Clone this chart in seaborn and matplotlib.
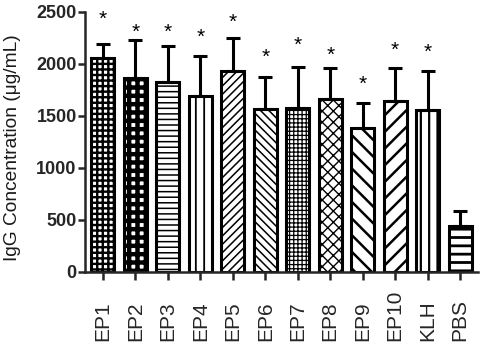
import numpy as np
import seaborn as sns
import matplotlib.pyplot as plt

categories = ['EP1', 'EP2', 'EP3', 'EP4', 'EP5', 'EP6', 'EP7', 'EP8', 'EP9', 'EP10', 'KLH', 'PBS']
igg_mean = [2058, 1868, 1827, 1695, 1930, 1564, 1580, 1666, 1388, 1644, 1561, 442]
igg_sd = [130, 358, 346, 379, 317, 314, 391, 298, 240, 320, 372, 145]
star_y = [2452, 2327, 2327, 2279, 2423, 2087, 2202, 2106, 1827, 2154, 2135]
yticks = [0, 500, 1000, 1500, 2000, 2500]

hatches = ['+++', '++', '---', '||', '////', '\\\\\\\\', '++++', 'xxx', '\\\\', '//', '||', '--']
hatch_lw = [1.7, 3.2, 1.1, 1.3, 1.1, 1.1, 0.9, 1.0, 1.8, 1.8, 1.6, 2.0]

sns.set_style('ticks')
plt.rcParams['font.family'] = ['Liberation Sans', 'DejaVu Sans']
plt.rcParams['hatch.color'] = 'black'

fig = plt.figure(figsize=(4.82, 3.44), dpi=100)
ax = fig.add_axes([85 / 482, 72 / 344, 393 / 482, 260 / 344])

sns.barplot(x=categories, y=igg_mean, color='white', edgecolor='black',
            linewidth=2.2, width=0.7, saturation=1, ax=ax)
for p, h, lw in zip(ax.patches, hatches, hatch_lw):
    p.set_facecolor('white')
    p.set_hatch(h)
    if hasattr(p, 'set_hatch_linewidth'):
        p.set_hatch_linewidth(lw)

x = np.arange(len(categories))
ax.errorbar(x, igg_mean, yerr=[np.zeros(len(igg_sd)), igg_sd], fmt='none',
            ecolor='black', elinewidth=2.2, capsize=4.7, capthick=2.2, zorder=1)

# significance stars (small downward nudge since '*' sits high in the text box)
for i, sy in enumerate(star_y):
    ax.annotate('*', (i, sy), xytext=(0, -2), textcoords='offset points',
                ha='center', va='center', fontsize=15, color='black')

ax.set_xlim(-0.55, len(categories) - 0.45)
ax.set_ylim(0, 2500)
ax.set_yticks(yticks)
ax.set_yticklabels([str(t) for t in yticks], fontweight='bold', fontsize=13)
ax.set_xticks(x)
ax.set_xticklabels(categories, rotation=90, va='bottom', fontsize=15)
ax.tick_params(axis='x', length=6, width=1.8, pad=44)
ax.tick_params(axis='y', length=5, width=1.8, pad=1)
for s in ['left', 'bottom']:
    ax.spines[s].set_linewidth(1.8)
sns.despine(ax=ax)

ax.set_ylabel('IgG Concentration (μg/mL)', fontsize=13.8, color='#1a1a1a', va='center')
ax.yaxis.set_label_coords(-0.185, 0.48)
ax.set_xlabel('')

fig.savefig('out.png', dpi=100)
